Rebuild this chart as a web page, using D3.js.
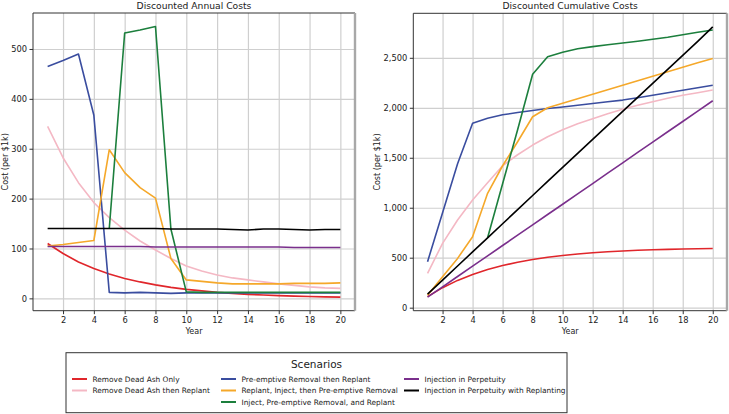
<!DOCTYPE html>
<meta charset="utf-8">
<html>
<head>
  <script src="https://d3js.org/d3.v7.min.js"></script>
  <style>
    body { margin: 0; background: #fff; font-family: "DejaVu Sans", sans-serif; }
    text { fill: #222; }
  </style>
</head>
<body>
  <svg width="729" height="414"></svg>
  <script>
    // ---- data ----
    const years = [1, 2, 3, 4, 5, 6, 7, 8, 9, 10, 11, 12, 13, 14, 15, 16, 17, 18, 19, 20];

    const scenarios = ["Remove Dead Ash Only", "Remove Dead Ash then Replant",
      "Pre-emptive Removal then Replant", "Replant, Inject, then Pre-emptive Removal",
      "Inject, Pre-emptive Removal, and Replant", "Injection in Perpetuity",
      "Injection in Perpetuity with Replanting"];
    const colors = ["#e0262b", "#f4b8c4", "#3a4d9f", "#f5a82a", "#1c7f3d", "#7a2f8c", "#000000"];

    const xTicks = [2, 4, 6, 8, 10, 12, 14, 16, 18, 20];
    const annualTicks = [0, 100, 200, 300, 400, 500];
    const cumulativeTicks = [0, 500, 1000, 1500, 2000, 2500];

    // Discounted annual costs
    const annRemoveOnly = [110, 90, 73, 60, 49, 40, 33, 27, 22, 18, 15, 12, 10, 8, 6.6, 5.4, 4.4, 3.6, 3.0, 2.4];
    const annRemoveReplant = [345, 282, 232, 192, 162, 137, 115, 97, 80, 65, 55, 47, 41, 37, 33, 29, 26, 23, 21, 20];
    const annPreemptive = [465, 477, 490, 367, 12, 11, 12, 11, 10, 11, 11, 11, 11, 11, 11, 11, 11, 11, 11, 11];
    const annReplantInject = [105, 108, 112, 116, 298, 252, 222, 201, 80, 37, 34, 31, 29, 29, 29, 29, 30, 30, 30, 31];
    const annInjectPreempt = [null, null, null, null, 140, 532, 538, 545, 139, 13, 12, 12, 12, 12, 12, 12, 12, 12, 12, 12];
    const annInjection = [104, 104, 104, 104, 104, 104, 104, 103, 103, 103, 103, 103, 103, 103, 103, 103, 102, 102, 102, 102];
    const annInjectionReplant = [140, 140, 140, 140, 140, 140, 140, 140, 139, 139, 139, 139, 138, 137, 139, 139, 138, 137, 138, 138];

    // Discounted cumulative costs
    const cumRemoveOnly = [110, 200, 273, 333, 382, 422, 455, 482, 504, 522, 537, 549, 559, 567, 574, 579, 583, 587, 590, 592];
    const cumRemoveReplant = [344, 644, 877, 1077, 1250, 1420, 1530, 1627, 1710, 1780, 1840, 1890, 1940, 1985, 2025, 2060, 2095, 2125, 2150, 2177];
    const cumPreemptive = [460, 950, 1440, 1845, 1895, 1930, 1952, 1972, 1992, 2008, 2025, 2042, 2060, 2077, 2100, 2125, 2150, 2175, 2200, 2226];
    const cumReplantInject = [125, 310, 493, 710, 1144, 1420, 1660, 1910, 2000, 2045, 2090, 2135, 2180, 2225, 2270, 2315, 2360, 2405, 2450, 2494];
    const cumInjectPreempt = [null, null, null, null, 700, 1240, 1780, 2335, 2510, 2555, 2590, 2612, 2630, 2648, 2665, 2685, 2705, 2730, 2755, 2778];
    const cumInjection = [105, 208, 312, 415, 518, 622, 725, 829, 932, 1035, 1139, 1242, 1346, 1449, 1553, 1656, 1760, 1863, 1966, 2070];
    const cumInjectionReplant = [135, 276, 417, 558, 699, 840, 981, 1122, 1263, 1404, 1544, 1684, 1824, 1964, 2104, 2244, 2384, 2524, 2664, 2810];

    const annualSeries = [annRemoveOnly, annRemoveReplant, annPreemptive, annReplantInject,
      annInjectPreempt, annInjection, annInjectionReplant];
    const cumulativeSeries = [cumRemoveOnly, cumRemoveReplant, cumPreemptive, cumReplantInject,
      cumInjectPreempt, cumInjection, cumInjectionReplant];

    const svg = d3.select("svg");

    function drawPanel(p) {
      const x = d3.scaleLinear().domain([0.05, 20.95]).range([p.left, p.right]);
      const all = p.series.flat().filter(v => v != null);
      const lo = d3.min(all), hi = d3.max(all), pad = (hi - lo) * 0.05;
      const y = d3.scaleLinear().domain([lo - pad, hi + pad]).range([p.bottom, p.top]);

      const g = svg.append("g");

      // grid
      g.append("g")
        .attr("transform", `translate(0,${p.bottom})`)
        .call(d3.axisBottom(x).tickValues(xTicks).tickSize(-(p.bottom - p.top)).tickFormat(""))
        .call(s => s.select(".domain").remove())
        .call(s => s.selectAll("line").attr("stroke", "#cfcfcf").attr("stroke-width", 1.2));
      g.append("g")
        .attr("transform", `translate(${p.left},0)`)
        .call(d3.axisLeft(y).tickValues(p.yTicks).tickSize(-(p.right - p.left)).tickFormat(""))
        .call(s => s.select(".domain").remove())
        .call(s => s.selectAll("line").attr("stroke", "#cfcfcf").attr("stroke-width", 1.2));

      // lines
      const line = d3.line()
        .defined(d => d[1] != null)
        .x(d => x(d[0]))
        .y(d => y(d[1]));
      p.series.forEach((vals, i) => {
        g.append("path")
          .datum(years.map((yr, j) => [yr, vals[j]]))
          .attr("fill", "none")
          .attr("stroke", colors[i])
          .attr("stroke-width", 1.6)
          .attr("stroke-linejoin", "round")
          .attr("d", line);
      });

      // axes
      g.append("g")
        .attr("transform", `translate(0,${p.bottom})`)
        .call(d3.axisBottom(x).tickValues(xTicks).tickSize(3.5).tickPadding(2.5))
        .call(s => s.select(".domain").remove())
        .call(s => s.selectAll("text").attr("font-size", 8.3).attr("font-family", "DejaVu Sans").attr("fill", "#222"))
        .call(s => s.selectAll("line").attr("stroke", "#333"));
      g.append("g")
        .attr("transform", `translate(${p.left},0)`)
        .call(d3.axisLeft(y).tickValues(p.yTicks).tickSize(3.5).tickPadding(2.5).tickFormat(p.fmt))
        .call(s => s.select(".domain").remove())
        .call(s => s.selectAll("text").attr("font-size", 8.3).attr("font-family", "DejaVu Sans").attr("fill", "#222"))
        .call(s => s.selectAll("line").attr("stroke", "#333"));

      // frame
      g.append("path")
        .attr("d", `M${p.right},${p.top}H${p.left}V${p.bottom}H${p.right}`)
        .attr("fill", "none").attr("stroke", "#333").attr("stroke-width", 1);
      g.append("line")
        .attr("x1", p.right).attr("x2", p.right).attr("y1", p.top).attr("y2", p.bottom)
        .attr("stroke", "#a8a8a8").attr("stroke-width", 2.4);

      // labels
      g.append("text")
        .attr("x", (p.left + p.right) / 2).attr("y", p.top - 4)
        .attr("text-anchor", "middle").attr("font-size", 9.2)
        .text(p.title);
      g.append("text")
        .attr("x", (p.left + p.right) / 2).attr("y", p.bottom + 23)
        .attr("text-anchor", "middle").attr("font-size", 8)
        .text("Year");
      g.append("text")
        .attr("transform", `translate(${p.labelX},${(p.top + p.bottom) / 2}) rotate(-90)`)
        .attr("text-anchor", "middle").attr("font-size", 8)
        .text("Cost (per $1k)");
    }

    drawPanel({left: 33, right: 355, top: 13, bottom: 310.7, labelX: 8,
      title: "Discounted Annual Costs", series: annualSeries,
      yTicks: annualTicks, fmt: d3.format("d")});
    drawPanel({left: 413.3, right: 727, top: 13.3, bottom: 310.7, labelX: 380,
      title: "Discounted Cumulative Costs", series: cumulativeSeries,
      yTicks: cumulativeTicks, fmt: d3.format(",")});

    // legend
    const legend = svg.append("g");
    legend.append("rect")
      .attr("x", 66).attr("y", 352.7).attr("width", 501).attr("height", 60)
      .attr("fill", "#fff").attr("stroke", "#333").attr("stroke-width", 1);
    legend.append("text")
      .attr("x", 316.5).attr("y", 368).attr("text-anchor", "middle")
      .attr("font-size", 10.5).text("Scenarios");

    const colX = [72, 221, 404];
    const rowY = [379, 390.5, 402];
    const slots = [[0, 0], [0, 1], [1, 0], [1, 1], [1, 2], [2, 0], [2, 1]];
    scenarios.forEach((name, i) => {
      const [c, r] = slots[i];
      const item = legend.append("g").attr("transform", `translate(${colX[c]},${rowY[r]})`);
      item.append("line")
        .attr("x1", 0).attr("x2", 15).attr("y1", 0).attr("y2", 0)
        .attr("stroke", colors[i]).attr("stroke-width", 2);
      item.append("text")
        .attr("x", 20.5).attr("y", 2.8).attr("font-size", 7.4)
        .text(name);
    });
  </script>
</body>
</html>
